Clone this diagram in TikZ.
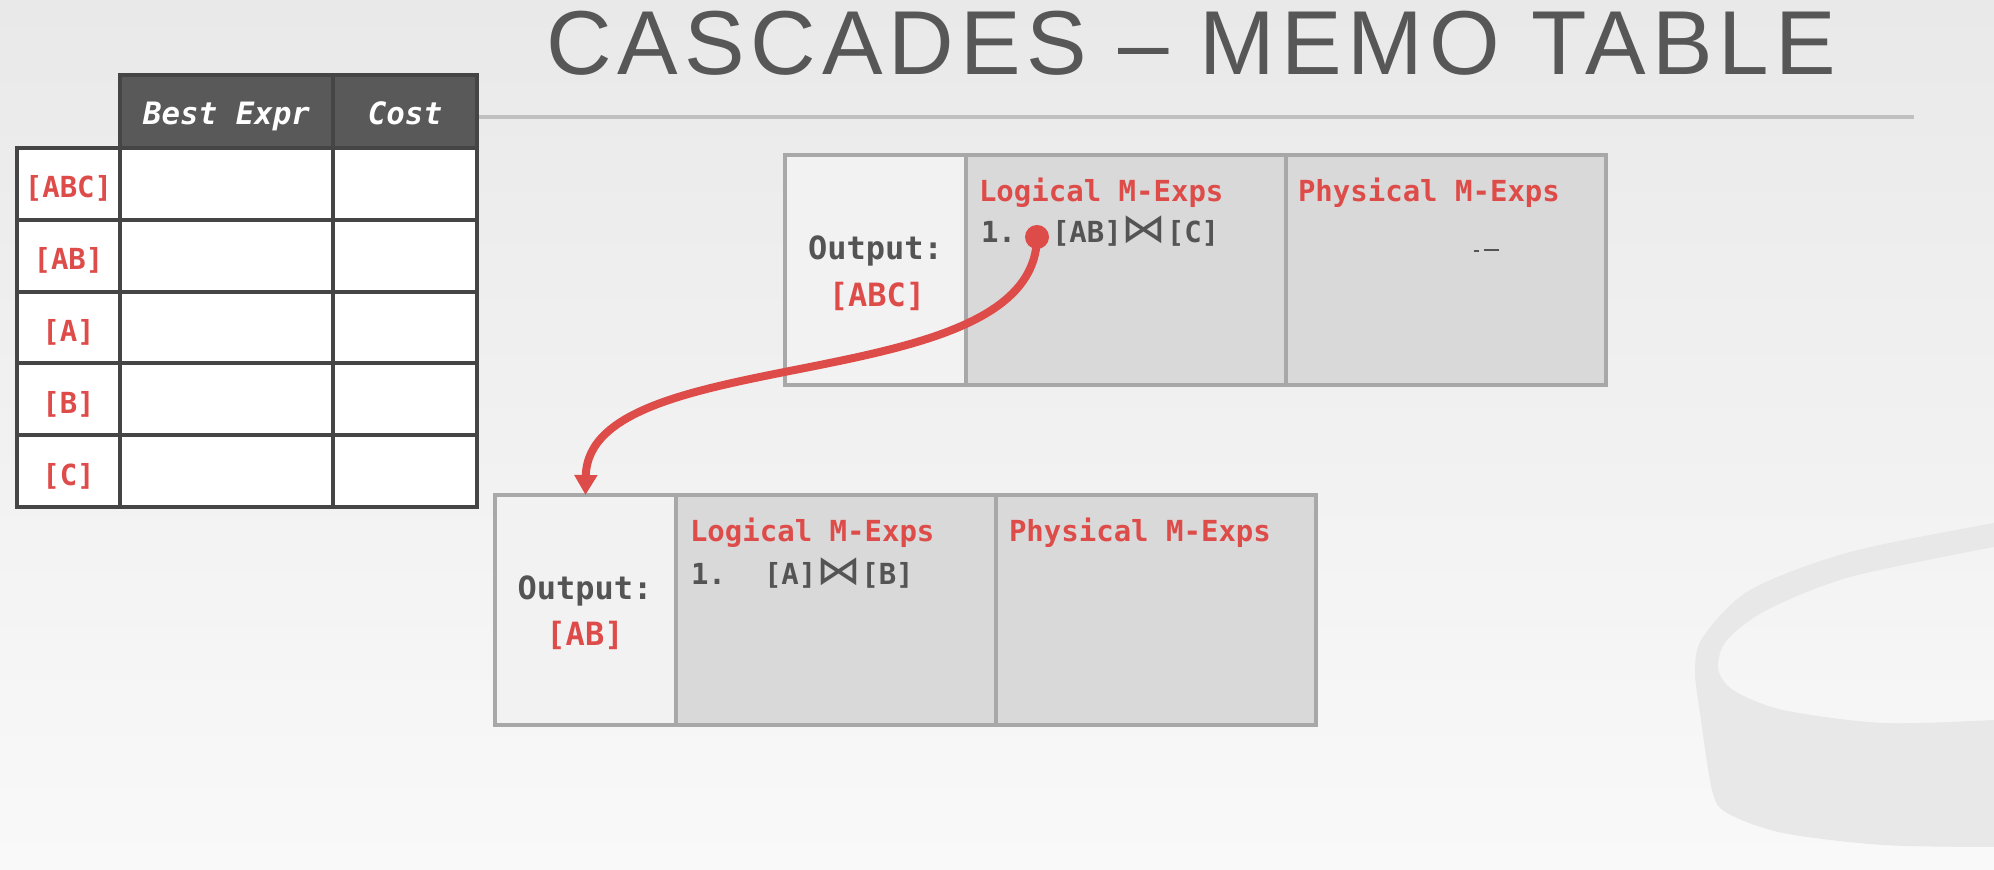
\documentclass[tikz,border=0pt]{standalone}
\usepackage{fontspec}
\usepackage{graphicx}
\setmonofont{DejaVu Sans Mono}
\newfontfamily\titlefont[LetterSpace=6.5]{Liberation Sans}
\newfontfamily\symfont{DejaVu Sans}
\usepackage{tikz}
\usetikzlibrary{arrows.meta}
\usetikzlibrary{positioning}
\definecolor{memored}{HTML}{DE4C4A}
\definecolor{textgray}{HTML}{545454}
\definecolor{titlegray}{HTML}{575757}
\definecolor{memoline}{HTML}{A8A8A8}
\definecolor{cellfill}{HTML}{D9D9D9}
\definecolor{outfill}{HTML}{F2F2F2}
\definecolor{tabline}{HTML}{454545}
\definecolor{headfill}{HTML}{595959}
\definecolor{rulegray}{HTML}{C0C0C0}
\definecolor{drumgray}{HTML}{E8E8E8}
\definecolor{bgtop}{HTML}{E9E9E9}
\definecolor{bgbot}{HTML}{F9F9F9}
\newcommand{\memosize}{\fontsize{14.5}{17}\selectfont}
\newcommand{\outsize}{\fontsize{16}{19}\selectfont}
\newcommand{\headsize}{\fontsize{15.4}{18}\selectfont}
\newcommand{\titlesize}{\fontsize{45.4}{52}\selectfont}
\newcommand{\bowjoin}{\scalebox{1.55}[1.4]{\symfont\mdseries ⋈}}

\begin{document}
\begin{tikzpicture}[x=0.5pt,y=-0.5pt]
\tikzstyle{every node}=[font=\ttfamily\bfseries\memosize, inner sep=0pt, outer sep=0pt]
\tikzstyle{tabcell}=[draw=tabline, line width=2pt, fill=white, minimum height=35.9pt]
\tikzstyle{rowlab}=[tabcell, minimum width=51.5pt, text=memored, text height=14pt, text depth=0pt]
\tikzstyle{bestcell}=[tabcell, minimum width=106.5pt]
\tikzstyle{costcell}=[tabcell, minimum width=72pt]
\tikzstyle{headcell}=[tabcell, fill=headfill, minimum height=36.5pt, text=white, text height=13pt, text depth=0pt, font=\ttfamily\bfseries\itshape\headsize]
\tikzstyle{memocell}=[draw=memoline, line width=1.7pt, minimum height=115pt]
\tikzstyle{outcell}=[memocell, fill=outfill, minimum width=90.5pt]
\tikzstyle{expcell}=[memocell, fill=cellfill, minimum width=160pt]
\tikzstyle{outtext}=[anchor=base, text=textgray, font=\ttfamily\bfseries\outsize]
\tikzstyle{headtext}=[anchor=base west, text=memored]
\tikzstyle{exptext}=[anchor=base west, text=textgray]
\useasboundingbox (0,0) rectangle (1994,870);
\shade[top color=bgtop, bottom color=bgbot] (0,0) rectangle (1994,870);
% drum in the corner
\fill[drumgray] plot[smooth] coordinates {(1994,523) (1850,552) (1750,590) (1703,637) (1695,670) (1700,713) (1712,790) (1727,813) (1783,833) (1883,845) (1994,847)}
  -- plot[smooth] coordinates {(1994,720) (1883,723) (1783,710) (1733,690) (1718,668) (1727,640) (1767,610) (1850,577) (1994,547)} -- cycle;
% title
\node[anchor=base, text=titlegray, font=\titlefont\titlesize] (title) at (1191,75) {CASCADES – MEMO TABLE};
\coordinate (rulel) at (477,117);
\coordinate (ruler) at (1914,117);
\draw[rulegray, line width=2pt] (rulel) -- (ruler);
% table
\node[rowlab] (tabc) at (68.5,184) {[ABC]};
\node[rowlab, below=0pt of tabc] (tab) {[AB]};
\node[rowlab, below=0pt of tab] (ta) {[A]};
\node[rowlab, below=0pt of ta] (tb) {[B]};
\node[rowlab, below=0pt of tb] (tc) {[C]};
\node[bestcell, right=0pt of tabc] (eabc) {};
\node[bestcell, right=0pt of tab] (eab) {};
\node[bestcell, right=0pt of ta] (ea) {};
\node[bestcell, right=0pt of tb] (eb) {};
\node[bestcell, right=0pt of tc] (ec) {};
\node[costcell, right=0pt of eabc] (cabc) {};
\node[costcell, right=0pt of eab] (cab) {};
\node[costcell, right=0pt of ea] (ca) {};
\node[costcell, right=0pt of eb] (cb) {};
\node[costcell, right=0pt of ec] (cc) {};
\node[headcell, minimum width=106.5pt, above=0pt of eabc] (hbest) {Best Expr};
\node[headcell, minimum width=72pt, right=0pt of hbest] (hcost) {Cost};
% group [ABC]
\node[outcell] (outabc) at (875.5,270) {};
\node[expcell, right=0pt of outabc] (logabc) {};
\node[expcell, right=0pt of logabc] (phyabc) {};
\node[outtext] (outabcl) at (875.5,260) {Output:};
\node[outtext, text=memored] (outabcv) at (877,307) {[ABC]};
\node[headtext] (logabch) at (979,202) {Logical M-Exps};
\node[headtext] (phyabch) at (1298,202) {Physical M-Exps};
\node[exptext] (numabc) at (981,243) {1.};
\node[exptext] (joinabc) at (1052,243) {[AB]\bowjoin[C]};
\draw[textgray, line width=0.7pt] (1474,251) -- (1479,251) (1484,250) -- (1499,250);
% group [AB]
\node[outcell] (outab) at (585.5,610) {};
\node[expcell, right=0pt of outab] (logab) {};
\node[expcell, right=0pt of logab] (phyab) {};
\node[outtext] (outabl) at (585,600) {Output:};
\node[outtext, text=memored] (outabv) at (585,646) {[AB]};
\node[headtext] (logabh) at (690,542) {Logical M-Exps};
\node[headtext] (phyabh) at (1009,542) {Physical M-Exps};
\node[exptext] (numab) at (691,585) {1.};
\node[exptext] (joinab) at (764,585) {[A]\bowjoin[B]};
% link
\node[circle, fill=memored, minimum size=12pt] (dotabc) at (1037,237) {};
\draw[memored, line width=4pt, -{Triangle[length=10pt,width=11pt]}] (dotabc.center) .. controls (1035,400) and (588,340) .. (outab.north);
\end{tikzpicture}
\end{document}
